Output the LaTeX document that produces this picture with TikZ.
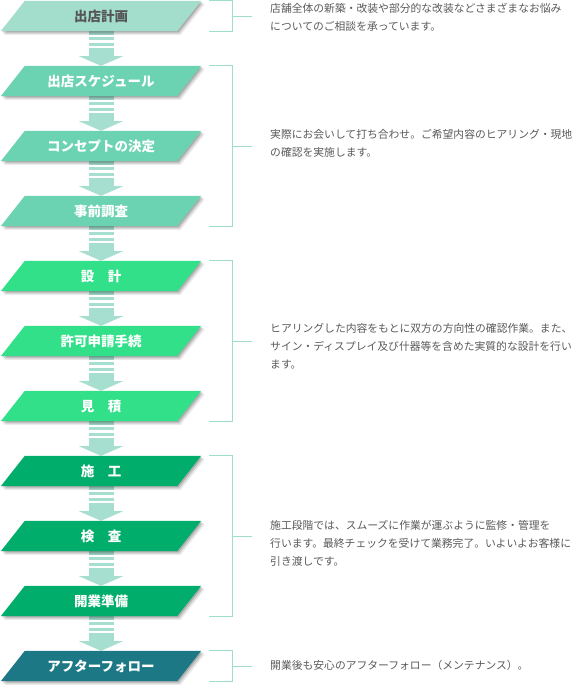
\documentclass[tikz,border=0pt]{standalone}
\usepackage{fontspec}
\setmainfont{Noto Sans CJK JP}
\usetikzlibrary{calc}
\definecolor{cA}{HTML}{A3DDCC}
\definecolor{cB}{HTML}{6BD3B1}
\definecolor{cC}{HTML}{33E08A}
\definecolor{cD}{HTML}{00AD6A}
\definecolor{cE}{HTML}{1D7886}
\definecolor{arw}{HTML}{A6DECF}
\definecolor{brk}{HTML}{A0DCCC}
\definecolor{txt}{HTML}{5A5A5A}
\definecolor{lbldark}{HTML}{555555}
\pgfdeclarelayer{bg}
\pgfsetlayers{bg,main}
\tikzset{
  lbl/.style={minimum width=176pt, minimum height=30pt, inner sep=0pt,
    font=\fontsize{13.5}{16}\selectfont\bfseries, text=white},
  desc/.style={anchor=north west, inner sep=0pt, align=left,
    font=\fontsize{10.8}{18}\selectfont, text=txt},
  brkline/.style={draw=brk, line width=1pt},
  arwfill/.style={fill=arw},
}
\newcommand\pgbox[2]{%
  \foreach \s/\o in {1.2/0.16,2.4/0.12,3.6/0.08}{%
    \fill[black,opacity=\o] ($(#1.south west)+(-12+\s,\s)$) -- ($(#1.south east)+(-12+\s,\s)$)
      -- ($(#1.north east)+(12+\s,\s)$) -- ($(#1.north west)+(12+\s,\s)$) -- cycle;}
  \fill[#2] ($(#1.south west)+(-12,0)$) -- ($(#1.south east)+(-12,0)$)
    -- ($(#1.north east)+(12,0)$) -- ($(#1.north west)+(12,0)$) -- cycle;
}
\newcommand\flowarrow[2]{%
  \fill[arwfill] ($(#1.south)+(-12.5,-1)$) rectangle ($(#1.south)+(12.5,3.5)$);
  \fill[arwfill] ($(#1.south)+(-12.5,6)$) rectangle ($(#1.south)+(12.5,9)$);
  \fill[arwfill] ($(#1.south)+(-12.5,11.5)$) rectangle ($(#1.south)+(12.5,14.5)$);
  \fill[arwfill] ($(#1.south)+(-12.5,17)$) rectangle ($(#1.south)+(12.5,25.2)$);
  \fill[arwfill] ($(#1.south)+(-22,25)$) -- ($(#1.south)+(22,25)$) -- (#2.north) -- cycle;
}
\newcommand\bracketto[2]{%
  \draw[brkline] ($(#1.north east)+(20,0)$) -| ($(#2.south east)+(43,0)$) -- ($(#2.south east)+(20,0)$);
  \draw[brkline] ($(#1.north east)!0.5!(#2.south east)+(43,0)$) -- ++(20,0);
}
\begin{document}
\begin{tikzpicture}[x=1pt,y=-1pt]
\useasboundingbox (0,0) rectangle (578,686);
% boxes (labels)
\node[lbl,text=lbldark] (n1) at (101,16) {出店計画};
\node[lbl] (n2) at (101,81) {出店スケジュール};
\node[lbl] (n3) at (101,146) {コンセプトの決定};
\node[lbl] (n4) at (101,211) {事前調査};
\node[lbl] (n5) at (101,276) {設　計};
\node[lbl] (n6) at (101,341) {許可申請手続};
\node[lbl] (n7) at (101,406) {見　積};
\node[lbl] (n8) at (101,471) {施　工};
\node[lbl] (n9) at (101,536) {検　査};
\node[lbl] (n10) at (101,601) {開業準備};
\node[lbl] (n11) at (101,666) {アフターフォロー};
% descriptions
\node[desc] (d1) at (270,2.5) {店舗全体の新築・改装や部分的な改装などさまざまなお悩み\\についてのご相談を承っています。};
\node[desc] (d2) at (270,129.5) {実際にお会いして打ち合わせ。ご希望内容のヒアリング・現地\\の確認を実施します。};
\node[desc] (d3) at (270,323.5) {ヒアリングした内容をもとに双方の方向性の確認作業。また、\\サイン・ディスプレイ及び什器等を含めた実質的な設計を行い\\ます。};
\node[desc] (d4) at (270,520.5) {施工段階では、スムーズに作業が運ぶように監修・管理を\\行います。最終チェックを受けて業務完了。いよいよお客様に\\引き渡しです。};
\node[desc] (d5) at (270,660.5) {開業後も安心のアフターフォロー（メンテナンス）。};
% brackets
\bracketto{n1}{n1}
\bracketto{n2}{n4}
\bracketto{n5}{n7}
\bracketto{n8}{n10}
\bracketto{n11}{n11}
\begin{pgfonlayer}{bg}
  \fill[white] (0,0) rectangle (578,686);
  \flowarrow{n1}{n2}
  \flowarrow{n2}{n3}
  \flowarrow{n3}{n4}
  \flowarrow{n4}{n5}
  \flowarrow{n5}{n6}
  \flowarrow{n6}{n7}
  \flowarrow{n7}{n8}
  \flowarrow{n8}{n9}
  \flowarrow{n9}{n10}
  \flowarrow{n10}{n11}
  \pgbox{n1}{cA}
  \pgbox{n2}{cB}
  \pgbox{n3}{cB}
  \pgbox{n4}{cB}
  \pgbox{n5}{cC}
  \pgbox{n6}{cC}
  \pgbox{n7}{cC}
  \pgbox{n8}{cD}
  \pgbox{n9}{cD}
  \pgbox{n10}{cD}
  \pgbox{n11}{cE}
\end{pgfonlayer}
\end{tikzpicture}
\end{document}
